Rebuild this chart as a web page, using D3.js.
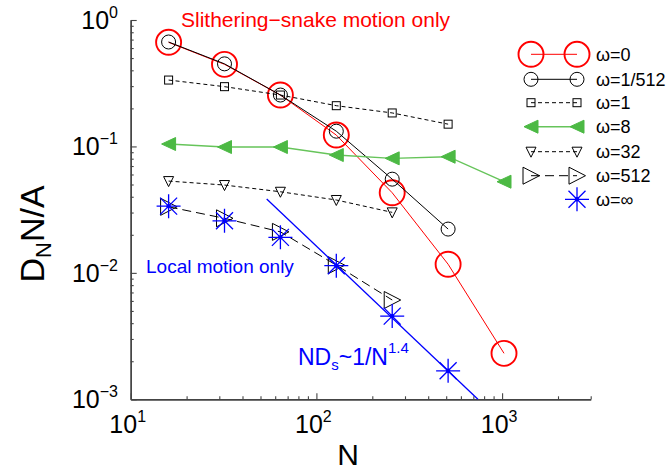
<!DOCTYPE html>
<html><head><meta charset="utf-8">
<script src="https://cdn.jsdelivr.net/npm/d3@7"></script>
<style>body{margin:0;background:#fff} svg{display:block} text{font-family:"Liberation Sans",Arial,Helvetica,sans-serif}</style>
</head><body><svg id="c" width="671" height="472"></svg>
<script>
// ---- data ----
const N = [16, 32, 64, 128, 256, 512, 1024];
const w0     = [0.666, 0.446, 0.255, 0.123, 0.043, 0.0117, 0.00231];
const w1_512 = [0.67, 0.45, 0.255, 0.132, 0.0551, 0.0222];
const w1     = [0.335, 0.297, 0.255, 0.210, 0.184, 0.150];
const w8     = [0.1045, 0.0989, 0.0989, 0.0855, 0.0805, 0.0829, 0.0526];
const w32    = [0.0532, 0.0495, 0.0438, 0.0377, 0.0301];
const w512   = [0.0333, 0.0270, 0.0211, 0.0115, 0.0061];
const wInf   = [0.0337, 0.0258, 0.0191, 0.0114, 0.00455, 0.00168];
const fitN = [54, 741];
const fitD = [0.0384, 0.001];
const legendLabels = ["ω=0", "ω=1/512", "ω=1", "ω=8", "ω=32", "ω=512", "ω=∞"];
const xTickExp = [1, 2, 3];
const yTickExp = [0, -1, -2, -3];

// ---- layout ----
const svg = d3.select("#c");
const x = d3.scaleLog().domain([10, 3000]).range([130.7, 590.7]);
const y = d3.scaleLog().domain([1e-3, 1]).range([399.3, 20]);
const axisColor = "#444";

function minorTicks(lo, hi) {
  const out = [];
  for (let d = lo; d < hi; d *= 10) for (let k = 2; k <= 9; k++) out.push(d * k);
  return out;
}
const xMinor = minorTicks(10, 1000).concat([2000, 3000]);
const yMinor = minorTicks(0.001, 1);

const gx = svg.append("g").attr("transform", `translate(0,${y.range()[0]})`);
gx.call(d3.axisBottom(x).tickValues(xMinor).tickSize(-3).tickSizeOuter(0).tickFormat(""));
gx.append("g").call(d3.axisBottom(x).tickValues(xTickExp.map(e => Math.pow(10, e))).tickSize(-6).tickSizeOuter(0).tickFormat(""));
const gy = svg.append("g").attr("transform", `translate(${x.range()[0]},0)`);
gy.call(d3.axisLeft(y).tickValues(yMinor).tickSize(-3).tickSizeOuter(0).tickFormat(""));
gy.append("g").call(d3.axisLeft(y).tickValues(yTickExp.map(e => Math.pow(10, e))).tickSize(-6).tickSizeOuter(0).tickFormat(""));
svg.selectAll(".domain").attr("stroke", axisColor).attr("stroke-width", 1.4);
svg.selectAll(".tick line").attr("stroke", axisColor).attr("stroke-width", 1.1);

// tick labels
xTickExp.forEach(e => {
  const t = svg.append("text").attr("x", x(Math.pow(10, e)) - 3).attr("y", 433)
    .attr("text-anchor", "middle").attr("font-size", 25).attr("fill", "#000");
  t.append("tspan").text("10");
  t.append("tspan").attr("dy", -11).attr("font-size", 16).text(String(e));
});
yTickExp.forEach(e => {
  const t = svg.append("text").attr("x", 118).attr("y", y(Math.pow(10, e)) + 9)
    .attr("text-anchor", "end").attr("font-size", 25).attr("fill", "#000");
  t.append("tspan").text("10");
  t.append("tspan").attr("dy", -11).attr("font-size", 16).text(e === 0 ? "0" : "\u2212" + (-e));
});

// axis titles
svg.append("text").attr("x", 348).attr("y", 465).attr("text-anchor", "middle")
  .attr("font-size", 30).text("N");
const yl = svg.append("text").attr("transform", "translate(44,234) rotate(-90)")
  .attr("text-anchor", "middle").attr("font-size", 34);
yl.append("tspan").text("D");
yl.append("tspan").attr("dy", 7).attr("font-size", 22).text("N");
yl.append("tspan").attr("dy", -7).text("N/A");

// ---- markers ----
const green = "#4cb944";
const markers = {
  circleBig: g => g.append("circle").attr("r", 12.5).attr("fill", "none").attr("stroke", "red").attr("stroke-width", 1.9),
  circle: g => g.append("circle").attr("r", 7).attr("fill", "none").attr("stroke", "#000").attr("stroke-width", 1),
  square: g => g.append("rect").attr("x", -4).attr("y", -4).attr("width", 8).attr("height", 8).attr("fill", "none").attr("stroke", "#000").attr("stroke-width", 1),
  triLeft: g => g.append("path").attr("d", "M-7,0L7,-6.5L7,6.5Z").attr("fill", green).attr("stroke", green).attr("stroke-width", 1),
  triDown: g => g.append("path").attr("d", "M-5,-4.5L5,-4.5L0,5.5Z").attr("fill", "none").attr("stroke", "#000").attr("stroke-width", 1),
  triRight: g => g.append("path").attr("d", "M-8,-8.5L-8,8.5L8.5,0Z").attr("fill", "none").attr("stroke", "#000").attr("stroke-width", 1),
  asterisk: g => {
    g.append("path").attr("d", "M-12,0H12M0,-12V12M-8.5,-8.5L8.5,8.5M-8.5,8.5L8.5,-8.5")
      .attr("stroke", "#0000ff").attr("stroke-width", 1.3).attr("fill", "none");
    g.append("circle").attr("r", 2.2).attr("fill", "#0000ff");
  }
};

const series = [
  { vals: w0, color: "red", width: 1, dash: null, marker: "circleBig" },
  { vals: w1_512, color: "#000", width: 1, dash: null, marker: "circle" },
  { vals: w1, color: "#000", width: 1, dash: "4,3", marker: "square" },
  { vals: w8, color: "#66c45a", width: 1.4, dash: null, marker: "triLeft" },
  { vals: w32, color: "#000", width: 1, dash: "4,3", marker: "triDown" },
  { vals: w512, color: "#000", width: 1, dash: "9,5", marker: "triRight" },
  { vals: wInf, color: "#0000ff", width: 1, dash: null, marker: "asterisk", noLine: true }
];

const line = d3.line().x(d => x(d[0])).y(d => y(d[1]));
series.forEach(s => {
  const pts = s.vals.map((v, i) => [N[i], v]);
  if (!s.noLine) {
    svg.append("path").attr("d", line(pts)).attr("fill", "none")
      .attr("stroke", s.color).attr("stroke-width", s.width)
      .attr("stroke-dasharray", s.dash);
  }
  pts.forEach(p => {
    const g = svg.append("g").attr("transform", `translate(${x(p[0])},${y(p[1])})`);
    markers[s.marker](g);
  });
});

// fit line
svg.append("path").attr("d", line(fitN.map((n, i) => [n, fitD[i]])))
  .attr("fill", "none").attr("stroke", "#0000ff").attr("stroke-width", 1.3);

// annotations
svg.append("text").attr("x", 181).attr("y", 27).attr("font-size", 21).attr("fill", "red")
  .text("Slithering\u2212snake motion only");
svg.append("text").attr("x", 146).attr("y", 273).attr("font-size", 19).attr("fill", "#0000ff")
  .text("Local motion only");
const fitLbl = svg.append("text").attr("x", 298).attr("y", 365).attr("font-size", 23).attr("fill", "#0000ff");
fitLbl.append("tspan").text("ND");
fitLbl.append("tspan").attr("dy", 5).attr("font-size", 15).text("s");
fitLbl.append("tspan").attr("dy", -5).text("~1/N");
fitLbl.append("tspan").attr("dy", -12).attr("font-size", 15).text("1.4");

// legend
const legY = [54.3, 79.3, 102.7, 126.7, 151.7, 175.7, 199.3];
const legX1 = 531, legX2 = 577;
series.forEach((s, i) => {
  const ly = legY[i];
  if (!s.noLine) {
    svg.append("line").attr("x1", legX1).attr("x2", legX2).attr("y1", ly).attr("y2", ly)
      .attr("stroke", s.color).attr("stroke-width", s.width).attr("stroke-dasharray", s.dash);
    markers[s.marker](svg.append("g").attr("transform", `translate(${legX1},${ly})`));
  }
  markers[s.marker](svg.append("g").attr("transform", `translate(${legX2},${ly})`));
  svg.append("text").attr("x", 596).attr("y", ly).attr("dy", "0.36em").attr("font-size", 18)
    .text(legendLabels[i]);
});
</script></body></html>
